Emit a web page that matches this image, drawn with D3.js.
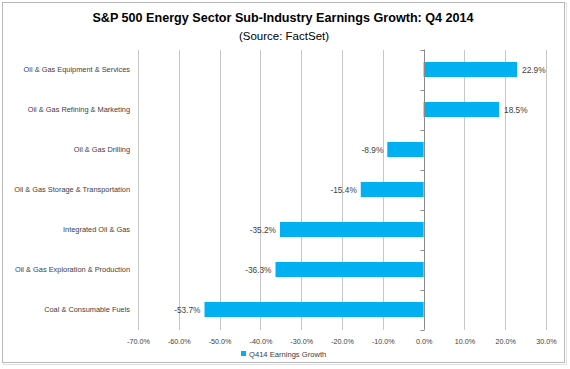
<!DOCTYPE html>
<html><head><meta charset="utf-8">
<script src="https://cdn.jsdelivr.net/npm/d3@7"></script>
<style>
html,body{margin:0;padding:0;background:#fff;}
svg{display:block;font-family:"Liberation Sans",Arial,sans-serif;}
</style></head>
<body>
<svg id="chart" width="570" height="369"></svg>
<script>
const categories = ["Oil & Gas Equipment & Services","Oil & Gas Refining & Marketing","Oil & Gas Drilling","Oil & Gas Storage & Transportation","Integrated Oil & Gas","Oil & Gas Exploration & Production","Coal & Consumable Fuels"];
const growth = [22.9, 18.5, -8.9, -15.4, -35.2, -36.3, -53.7];
const xTicks = [-70,-60,-50,-40,-30,-20,-10,0,10,20,30];
const seriesName = "Q414 Earnings Growth";
const titleText = "S&P 500 Energy Sector Sub-Industry Earnings Growth: Q4 2014";
const subtitleText = "(Source: FactSet)";

(function(){
const svg = d3.select("#chart");
// frame
svg.append("rect").attr("x",3.5).attr("y",3.5).attr("width",563).attr("height",361).attr("fill","none").attr("stroke","#e0e0e0").attr("stroke-width",1);
svg.append("rect").attr("x",2.5).attr("y",2.5).attr("width",562).attr("height",360).attr("fill","#fff").attr("stroke","#b8b8b8").attr("stroke-width",1);

svg.append("text").attr("x",283).attr("y",22).attr("text-anchor","middle").attr("font-size",12.6).attr("font-weight","bold").attr("fill","#000").text(titleText);
svg.append("text").attr("x",284).attr("y",40).attr("text-anchor","middle").attr("font-size",11.5).attr("fill","#000").text(subtitleText);

const plotTop = 49.5, plotBottom = 329.5;
const x = d3.scaleLinear().domain([-70,30]).range([138,546]);
const y = d3.scaleBand().domain(categories).range([plotTop,plotBottom]).paddingInner(0.625).paddingOuter(0.3125);
const fmt = d => d.toFixed(1) + "%";

// gridlines + tick labels
const gx = svg.append("g").attr("transform",`translate(0,${plotBottom})`)
  .call(d3.axisBottom(x).tickValues(xTicks).tickSize(-(plotBottom-plotTop)).tickPadding(9).tickFormat(fmt));
gx.select(".domain").remove();
gx.selectAll(".tick line").attr("stroke","#c6c6c6").attr("shape-rendering","crispEdges");
gx.selectAll(".tick text").attr("font-size",7.2).attr("fill","#404040").attr("font-family","Liberation Sans, Arial, sans-serif");

// bars
svg.append("g").selectAll("rect").data(categories).join("rect")
  .attr("x",(d,i)=>x(Math.min(0,growth[i])))
  .attr("y",d=>y(d))
  .attr("width",(d,i)=>Math.abs(x(growth[i])-x(0)))
  .attr("height",y.bandwidth())
  .attr("fill","#00b0f0");

// zero axis
const x0 = Math.round(x(0)) + 0.5;
svg.append("line").attr("x1",x0).attr("x2",x0).attr("y1",plotTop).attr("y2",plotBottom).attr("stroke","#8a8a8a");
const bounds = d3.range(categories.length+1).map(i => plotTop + i*y.step());
svg.append("g").selectAll("line").data(bounds).join("line")
  .attr("x1",x0-4).attr("x2",x0).attr("y1",d=>Math.round(d)+0.5).attr("y2",d=>Math.round(d)+0.5).attr("stroke","#8a8a8a");

// data labels
svg.append("g").selectAll("text").data(categories).join("text")
  .attr("x",(d,i)=> growth[i] >= 0 ? x(growth[i]) + 5 : x(growth[i]) - 4)
  .attr("y",d=>y(d)+y.bandwidth()/2+3)
  .attr("text-anchor",(d,i)=> growth[i] >= 0 ? "start" : "end")
  .attr("font-size",8.3).attr("fill","#404040")
  .text((d,i)=>fmt(growth[i]));

// category labels
svg.append("g").selectAll("text").data(categories).join("text")
  .attr("x",130).attr("y",d=>y(d)+y.bandwidth()/2+2.5)
  .attr("text-anchor","end").attr("font-size",7.4).attr("fill","#404040")
  .text(d=>d);

// legend
svg.append("rect").attr("x",241).attr("y",351).attr("width",5).attr("height",5).attr("fill","#00b0f0");
svg.append("text").attr("x",249).attr("y",356.5).attr("font-size",7.6).attr("fill","#404040").text(seriesName);
})();
</script>
</body></html>
